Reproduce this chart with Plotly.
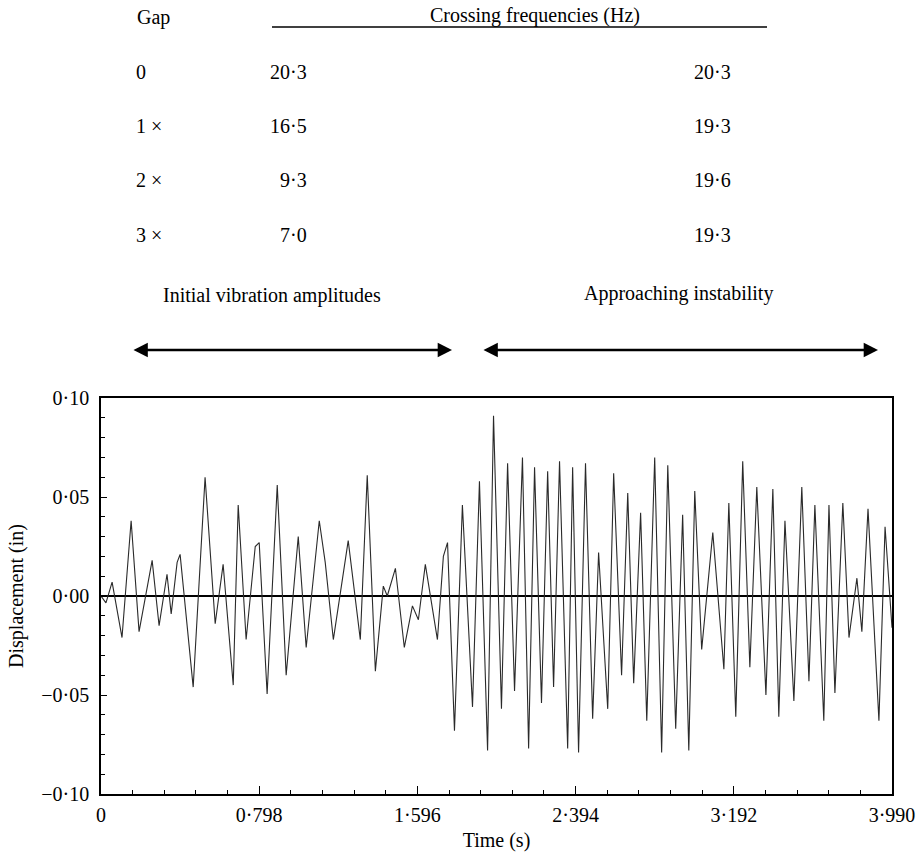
import plotly.graph_objects as go

# ---------------- data ----------------
time_s = [0.000, 0.025, 0.056, 0.106, 0.152, 0.192, 0.258, 0.293, 0.333, 0.354,
          0.384, 0.399, 0.465, 0.525, 0.576, 0.616, 0.667, 0.692, 0.732, 0.778,
          0.798, 0.838, 0.889, 0.934, 0.995, 1.035, 1.101, 1.131, 1.172, 1.247,
          1.308, 1.343, 1.384, 1.424, 1.444, 1.485, 1.530, 1.571, 1.601, 1.636,
          1.697, 1.727, 1.748, 1.783, 1.823, 1.874, 1.909, 1.950, 1.980, 2.020,
          2.051, 2.086, 2.126, 2.157, 2.187, 2.222, 2.253, 2.283, 2.313, 2.354,
          2.379, 2.409, 2.444, 2.480, 2.510, 2.556, 2.586, 2.626, 2.657, 2.687,
          2.722, 2.753, 2.793, 2.828, 2.859, 2.899, 2.934, 2.965, 2.995, 3.030,
          3.086, 3.142, 3.167, 3.202, 3.237, 3.273, 3.308, 3.354, 3.389, 3.419,
          3.450, 3.495, 3.535, 3.571, 3.601, 3.646, 3.672, 3.702, 3.742, 3.773,
          3.813, 3.838, 3.869, 3.924, 3.955, 3.990]
displacement_in = [0.000, -0.0035, 0.007, -0.021, 0.038, -0.018, 0.018, -0.015, 0.011, -0.009,
                   0.017, 0.021, -0.046, 0.060, -0.014, 0.016, -0.045, 0.046, -0.022, 0.025,
                   0.027, -0.0495, 0.056, -0.040, 0.030, -0.026, 0.038, 0.017, -0.022, 0.028,
                   -0.022, 0.061, -0.038, 0.005, 0.000, 0.014, -0.026, -0.005, -0.012, 0.016,
                   -0.022, 0.020, 0.027, -0.068, 0.046, -0.056, 0.058, -0.078, 0.091, -0.057,
                   0.067, -0.048, 0.070, -0.077, 0.065, -0.054, 0.063, -0.046, 0.068, -0.077,
                   0.065, -0.079, 0.067, -0.062, 0.022, -0.057, 0.062, -0.040, 0.052, -0.044,
                   0.042, -0.063, 0.070, -0.079, 0.066, -0.067, 0.041, -0.078, 0.053, -0.027,
                   0.032, -0.037, 0.047, -0.061, 0.068, -0.036, 0.055, -0.050, 0.054, -0.061,
                   0.038, -0.053, 0.055, -0.043, 0.046, -0.063, 0.046, -0.049, 0.047, -0.021,
                   0.009, -0.018, 0.044, -0.063, 0.035, -0.016]

x_tick_vals = [0.0, 0.798, 1.596, 2.394, 3.192, 3.990]
x_tick_text = ["0", "0·798", "1·596", "2·394", "3·192", "3·990"]
x_minor_vals = [0.1596, 0.3192, 0.4788, 0.6384, 0.9576, 1.1172, 1.2768, 1.4364,
                1.7556, 1.9152, 2.0748, 2.2344, 2.5536, 2.7132, 2.8728, 3.0324,
                3.3516, 3.5112, 3.6708, 3.8304]
y_tick_vals = [-0.10, -0.05, 0.0, 0.05, 0.10]
y_tick_text = ["−0·10", "−0·05", "0·00", "0·05", "0·10"]
y_minor_vals = [-0.09, -0.08, -0.07, -0.06, -0.04, -0.03, -0.02, -0.01,
                0.01, 0.02, 0.03, 0.04, 0.06, 0.07, 0.08, 0.09]

gap_labels = ["0", "1 ×", "2 ×", "3 ×"]
freq_initial = ["20·3", "16·5", "9·3", "7·0"]
freq_instability = ["20·3", "19·3", "19·6", "19·3"]

# ---------------- layout geometry ----------------
W, H = 924, 852
L, R, T, B = 101, 892, 398, 794   # plot area in pixels


def px(xp):
    return (xp - L) / (R - L)


def py(yp):
    return (B - yp) / (B - T)


FONT = "Liberation Serif"

fig = go.Figure()
fig.add_trace(go.Scatter(x=time_s, y=displacement_in, mode="lines",
                         line=dict(color="#2a2a2a", width=1.1),
                         showlegend=False, hoverinfo="skip"))

annotations = []


def text(t, x, y, xanchor="left"):
    annotations.append(dict(text=t, xref="paper", yref="paper", x=px(x), y=py(y),
                            xanchor=xanchor, yanchor="middle", showarrow=False,
                            font=dict(family=FONT, size=20, color="black")))


text("Gap", 135, 17)
text("Crossing frequencies (Hz)", 535, 16, "center")
row_y = [72, 126, 180, 235]
for g, f1, f2, yy in zip(gap_labels, freq_initial, freq_instability, row_y):
    text(g, 134, yy)
    text(f1, 309, yy, "right")
    text(f2, 733, yy, "right")
text("Initial vibration amplitudes", 272, 295, "center")
text("Approaching instability", 678, 293, "center")

for x0, x1 in [(132, 452), (482, 878)]:
    annotations.append(dict(text="", xref="paper", yref="paper", x=px(x1), y=py(350),
                            ax=-(x1 - x0), ay=0, axref="pixel", ayref="pixel",
                            showarrow=True, arrowhead=2, arrowside="end+start",
                            arrowsize=1.1, arrowwidth=2.6, arrowcolor="black",
                            standoff=0, startstandoff=0))

shapes = [dict(type="line", xref="paper", yref="paper", x0=px(272), x1=px(767),
               y0=py(27), y1=py(27), line=dict(color="black", width=1.6))]

axis_common = dict(showline=True, mirror=True, linecolor="black", linewidth=1.6,
                   showgrid=False, ticks="inside", tickcolor="black", tickwidth=1.3,
                   automargin=False,
                   tickfont=dict(family=FONT, size=20, color="black"))

fig.update_layout(
    width=W, height=H,
    margin=dict(l=L, r=W - R, t=T, b=H - B, pad=0, autoexpand=False),
    paper_bgcolor="white", plot_bgcolor="white",
    font=dict(family=FONT, size=20, color="black"),
    annotations=annotations, shapes=shapes,
    xaxis=dict(range=[0, 3.990], tickmode="array", tickvals=x_tick_vals,
               ticktext=x_tick_text, ticklen=8, zeroline=False,
               minor=dict(tickmode="array", tickvals=x_minor_vals, ticks="inside",
                          ticklen=4, tickcolor="black", tickwidth=1.3),
               title=dict(text="Time (s)", standoff=18,
                          font=dict(family=FONT, size=20, color="black")),
               ticklabelstandoff=2,
               **axis_common),
    yaxis=dict(range=[-0.10, 0.10], tickmode="array", tickvals=y_tick_vals,
               ticktext=y_tick_text, ticklen=6, zeroline=True,
               zerolinecolor="black", zerolinewidth=1.8,
               minor=dict(tickmode="array", tickvals=y_minor_vals, ticks="inside",
                          ticklen=4, tickcolor="black", tickwidth=1.3),
               title=dict(text="Displacement (in)", standoff=12,
                          font=dict(family=FONT, size=20, color="black")),
               ticklabelstandoff=6,
               **axis_common),
)

fig.write_html("out.html")
